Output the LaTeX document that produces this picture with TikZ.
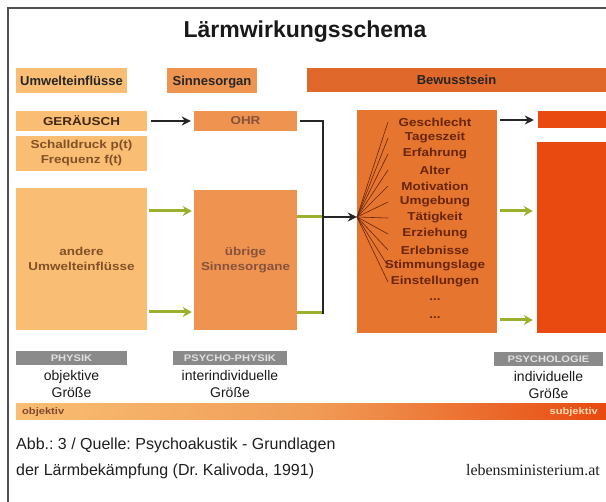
\documentclass[tikz,border=0pt]{standalone}
\usepackage{fontspec}
\setmainfont{Liberation Sans}
\newfontfamily\webfont{Liberation Serif}
\newfontfamily\breit[FakeStretch=1.17]{Liberation Sans}
\usetikzlibrary{arrows.meta,calc}
\definecolor{hellorange}{RGB}{249,190,115}
\definecolor{mittelorange}{RGB}{238,148,80}
\definecolor{dunkelorange}{RGB}{229,117,47}
\definecolor{kopforange}{RGB}{224,104,42}
\definecolor{rotorange}{RGB}{232,74,16}
\definecolor{taggrau}{RGB}{138,138,138}
\definecolor{gruen}{RGB}{157,176,46}
\definecolor{braun}{RGB}{105,38,10}
\definecolor{boxtext}{RGB}{130,80,40}
\definecolor{rahmen}{RGB}{80,80,80}

\begin{document}
\begin{tikzpicture}[x=1pt,y=-1pt,
  box/.style={inner sep=0pt, align=center, text=boxtext, font=\breit\bfseries\fontsize{11.5}{15}\selectfont},
  head/.style={inner sep=0pt, text height=9.5pt, text depth=0pt, text=black!85, font=\bfseries\fontsize{13}{15}\selectfont},
  tagbox/.style={box, fill=taggrau, text=black!12, font=\breit\bfseries\fontsize{9.5}{10}\selectfont},
  item/.style={inner sep=0pt, text=braun, font=\breit\bfseries\fontsize{11.5}{12}\selectfont},
  groesse/.style={inner sep=0pt, align=center, text=black!90, font=\fontsize{14}{17}\selectfont},
  caption/.style={inner sep=0pt, text=black!88, font=\frenchspacing\fontsize{16}{18}\selectfont},
  pfeil/.style={-{Stealth[length=9pt,width=9pt]}, line width=2.2pt, black!85},
  gpfeil/.style={-{Stealth[length=9pt,width=10pt]}, line width=3pt, gruen},
  linie/.style={line width=2pt, black!85},
  glinie/.style={line width=3pt, gruen},
  facher/.style={line width=0.6pt, braun}]
\useasboundingbox (0,0) rectangle (606,502);
\clip (0,0) rectangle (606,502);
\draw [rahmen, line width=1.5pt] (8,8) rectangle (640,540);
\node [font=\bfseries\fontsize{23}{26}\selectfont, text=black!90] (titel) at (305,32) {Lärmwirkungsschema};
\node [head, fill=hellorange, minimum width=111, minimum height=25] (umwelt) at (71.5,80.5) {Umwelteinflüsse};
\node [head, fill=mittelorange, minimum width=90, minimum height=25] (sinne) at (212,80.5) {Sinnesorgan};
\node [head, fill=kopforange, minimum width=299, minimum height=24] (bewkopf) at (456.5,80) {Bewusstsein};
\node [box, fill=hellorange, text=black!50!boxtext, minimum width=131, minimum height=20] (geraeusch) at (81.5,121) {GERÄUSCH};
\node [box, fill=hellorange, minimum width=131, minimum height=35] (schall) at (81.5,153.5) {Schalldruck p(t)\\Frequenz f(t)};
\node [box, fill=hellorange, minimum width=131, minimum height=142] (andere) at (81.5,259) {andere\\Umwelteinflüsse};
\node [box, fill=mittelorange, text=braun!80, minimum width=103, minimum height=20] (ohr) at (245.5,121) {OHR};
\node [box, fill=mittelorange, text=braun!80, minimum width=103, minimum height=140] (uebrige) at (245.5,260) {übrige\\Sinnesorgane};
\node [box, fill=dunkelorange, minimum width=140, minimum height=223] (bewusst) at (427,221.5) {};
\node [box, fill=rotorange, minimum width=68, minimum height=17] (rotoben) at (572,120) {};
\node [box, fill=rotorange, minimum width=69, minimum height=191] (rotgross) at (571.5,237.5) {};
\coordinate (oben) at (0,211);
\coordinate (unten) at (0,312);
\coordinate (knick) at (323,217);
\coordinate (bunten) at (323,313);
\coordinate (hub) at (357,217);
\coordinate (fan) at (388,0);
\draw [pfeil, shorten <=4pt, shorten >=3pt] (geraeusch) -- (ohr);
\draw [gpfeil, shorten <=2pt, shorten >=2pt] (andere.east |- oben) -- (uebrige.west |- oben);
\draw [gpfeil, shorten <=2pt, shorten >=2pt] (andere.east |- unten) -- (uebrige.west |- unten);
\draw [glinie] (uebrige.east |- knick) -- (knick);
\draw [glinie] (uebrige.east |- bunten) -- (bunten);
\draw [linie, shorten <=3pt] (ohr.east) -| ($(bunten)+(0,1.5)$);
\draw [pfeil] (knick) -- (bewusst.west |- knick);
\draw [pfeil, shorten <=3pt, shorten >=4pt] (bewusst.east |- rotoben) -- (rotoben);
\draw [gpfeil, shorten <=3pt, shorten >=4pt] (bewusst.east |- oben) -- (rotgross.west |- oben);
\draw [gpfeil, shorten <=3pt, shorten >=4pt] (bewusst.east |- 0,320) -- (rotgross.west |- 0,320);
\node [item] (geschlecht) at (435,122) {Geschlecht};
\node [item] (tageszeit) at (435,138) {Tageszeit};
\node [item] (erfahrung) at (435,154) {Erfahrung};
\node [item] (alter) at (435,170) {Alter};
\node [item] (motivation) at (435,186) {Motivation};
\node [item] (umgebung) at (435,202) {Umgebung};
\node [item] (taetigkeit) at (435,218) {Tätigkeit};
\node [item] (erziehung) at (435,234) {Erziehung};
\node [item] (erlebnisse) at (435,250) {Erlebnisse};
\node [item] (stimmung) at (435,266) {Stimmungslage};
\node [item] (einstellung) at (435,282) {Einstellungen};
\node [item] (weiter1) at (435,300) {...};
\node [item] (weiter2) at (435,318) {...};
\draw [facher] (hub) -- (fan |- geschlecht);
\draw [facher] (hub) -- (fan |- tageszeit);
\draw [facher] (hub) -- (fan |- erfahrung);
\draw [facher] (hub) -- (fan |- alter);
\draw [facher] (hub) -- (fan |- motivation);
\draw [facher] (hub) -- (fan |- umgebung);
\draw [facher] (hub) -- (fan |- taetigkeit);
\draw [facher] (hub) -- (fan |- erziehung);
\draw [facher] (hub) -- (fan |- erlebnisse);
\draw [facher] (hub) -- (fan |- stimmung);
\draw [facher] (hub) -- (fan |- einstellung);
\node [tagbox, minimum width=111, minimum height=14] (physik) at (71.5,358.5) {PHYSIK};
\node [tagbox, minimum width=114, minimum height=14] (psychophysik) at (230,358.5) {PSYCHO-PHYSIK};
\node [tagbox, minimum width=109, minimum height=14] (psychologie) at (548.5,359.5) {PSYCHOLOGIE};
\node [groesse, below=4pt] (objektive) at (physik.south) {objektive\\Größe};
\node [groesse, below=4pt] (inter) at (psychophysik.south) {interindividuelle\\Größe};
\node [groesse, below=4pt] (individuell) at (psychologie.south) {individuelle\\Größe};
\node [minimum width=590, minimum height=16, inner sep=0pt, left color=hellorange, right color=rotorange, middle color=mittelorange!80!hellorange] (balken) at (311,412) {};
\node [anchor=west, inner sep=0pt, text=braun!85, font=\breit\bfseries\fontsize{9.5}{10}\selectfont] (objektiv) at (22,412) {objektiv};
\node [anchor=east, inner sep=0pt, text=orange!30, font=\breit\bfseries\fontsize{9.5}{10}\selectfont] (subjektiv) at (598,412) {subjektiv};
\node [caption, anchor=base west] (quelle) at (16,450) {Abb.: 3 / Quelle: Psychoakustik - Grundlagen};
\node [caption, anchor=base west] (quelleb) at (16,476) {der Lärmbekämpfung (Dr. Kalivoda, 1991)};
\node [caption, anchor=base east, font=\webfont\fontsize{16}{18}\selectfont] (web) at (600,476) {lebensministerium.at};
\end{tikzpicture}
\end{document}
